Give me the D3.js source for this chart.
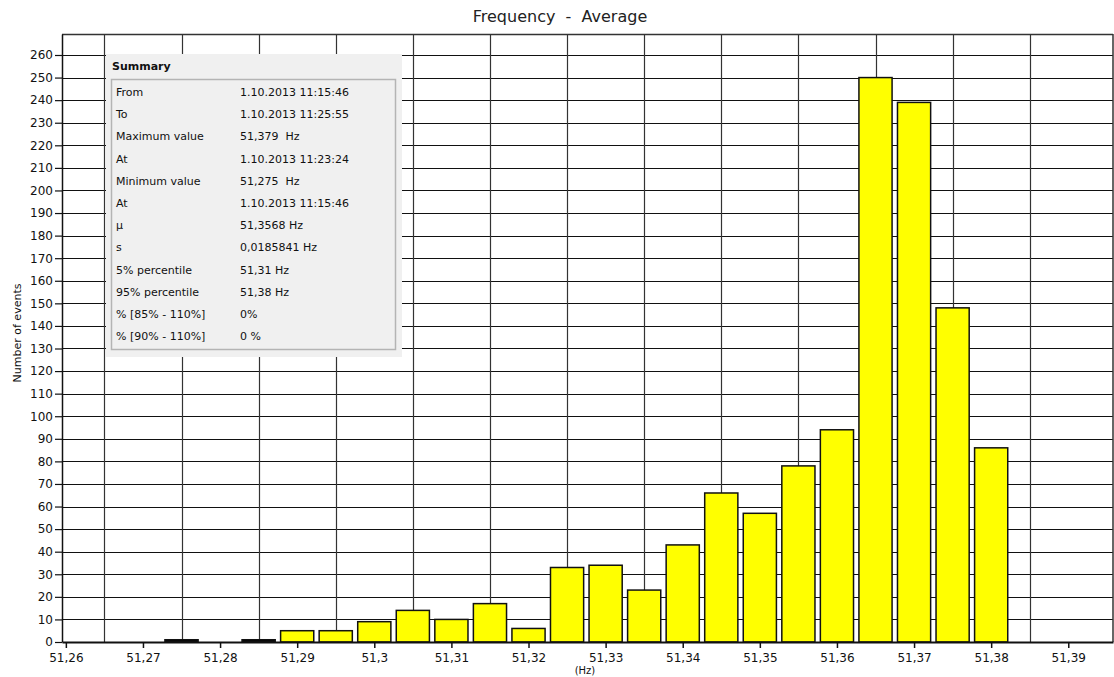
<!DOCTYPE html>
<html><head><meta charset="utf-8">
<script src="https://cdn.jsdelivr.net/npm/d3@7"></script>
<style>body{margin:0;background:#fff}svg{display:block;font-family:"DejaVu Sans",sans-serif}text{white-space:pre}</style>
</head><body><svg id="c" width="1114" height="677"></svg>
<script>
const binCenters = [51.275,51.285,51.29,51.295,51.30,51.305,51.31,51.315,51.32,51.325,51.33,51.335,51.34,51.345,51.35,51.355,51.36,51.365,51.37,51.375,51.38];
const binCounts  = [1,1,5,5,9,14,10,17,6,33,34,23,43,66,57,78,94,250,239,148,86];
const binColors  = ["black","black","yellow","yellow","yellow","yellow","yellow","yellow","yellow","yellow","yellow","yellow","yellow","yellow","yellow","yellow","yellow","yellow","yellow","yellow","yellow"];
const xTicks = [51.26,51.27,51.28,51.29,51.30,51.31,51.32,51.33,51.34,51.35,51.36,51.37,51.38,51.39];
const xGrid = [51.265,51.275,51.285,51.295,51.305,51.315,51.325,51.335,51.345,51.355,51.365,51.375,51.385];
const yTicks = d3.range(0,261,10);
const summaryLabels = ["From","To","Maximum value","At","Minimum value","At","μ","s","5% percentile","95% percentile","% [85% - 110%]","% [90% - 110%]"];
const summaryValues = ["1.10.2013 11:15:46","1.10.2013 11:25:55","51,379  Hz","1.10.2013 11:23:24","51,275  Hz","1.10.2013 11:15:46","51,3568 Hz","0,0185841 Hz","51,31 Hz","51,38 Hz","0%","0 %"];

const svg = d3.select("#c");
const L=62, T=34, R=1113, B=642;
const x = d3.scaleLinear().domain([51.2595,51.3958]).range([L,R]);
const y = d3.scaleLinear().domain([0,269.3]).range([B,T]);
const fmt = d => d3.format(".2~f")(d).replace(".",",");

// title
svg.append("text").attr("x",560).attr("y",22).attr("text-anchor","middle")
  .style("font-size","16px").attr("fill","#222").text("Frequency  -  Average");

// horizontal grid
svg.append("g").selectAll("line").data(yTicks.filter(d=>d>0)).join("line")
  .attr("x1",L).attr("x2",R).attr("y1",d=>Math.round(y(d))+0.5).attr("y2",d=>Math.round(y(d))+0.5)
  .attr("stroke","#111").attr("stroke-width",1.2);
// vertical grid
svg.append("g").selectAll("line").data(xGrid).join("line")
  .attr("x1",d=>Math.round(x(d))+0.5).attr("x2",d=>Math.round(x(d))+0.5).attr("y1",T).attr("y2",B)
  .attr("stroke","#333").attr("stroke-width",1.2);
// border top/right
svg.append("line").attr("x1",L).attr("x2",R).attr("y1",T+0.5).attr("y2",T+0.5).attr("stroke","#333").attr("stroke-width",1.5);
svg.append("line").attr("x1",R).attr("x2",R).attr("y1",T).attr("y2",B).attr("stroke","#333").attr("stroke-width",1.5);

// bars
const bw = 0.0043;
svg.append("g").selectAll("rect").data(binCenters).join("rect")
  .attr("x",(d)=>x(d-bw/2)).attr("width",(d)=>x(d+bw/2)-x(d-bw/2))
  .attr("y",(d,i)=>y(binCounts[i])).attr("height",(d,i)=>y(0)-y(binCounts[i]))
  .attr("fill",(d,i)=>binColors[i]).attr("stroke","#111").attr("stroke-width",1.5);

// summary panel
const sp = svg.append("g");
sp.append("rect").attr("x",106).attr("y",54).attr("width",296).attr("height",303).attr("fill","#f0f0f0");
sp.append("text").attr("x",112).attr("y",70).style("font-size","11px").style("font-weight","bold").attr("fill","#111").text("Summary");
sp.append("rect").attr("x",111.5).attr("y",79.5).attr("width",284).attr("height",270).attr("fill","none").attr("stroke","#b4b4b4").attr("stroke-width",1.5);
sp.selectAll("text.l").data(summaryLabels).join("text").attr("class","l")
  .attr("x",116).attr("y",(d,i)=>96+i*22.2).style("font-size","11px").attr("fill","#111").text(d=>d);
sp.selectAll("text.v").data(summaryValues).join("text").attr("class","v")
  .attr("x",240).attr("y",(d,i)=>96+i*22.2).style("font-size","11px").attr("fill","#111").text(d=>d);

// y axis
const ya = svg.append("g").attr("transform",`translate(${L},0)`)
  .call(d3.axisLeft(y).tickValues(yTicks).tickSize(7).tickSizeOuter(0).tickPadding(2));
ya.select(".domain").attr("stroke","#111").attr("stroke-width",1.5);
ya.selectAll(".tick line").attr("stroke","#111").attr("stroke-width",1.2);
ya.selectAll(".tick text").style("font-size","12px").style("font-family","DejaVu Sans").attr("fill","#111");

// x axis
const xa = svg.append("g").attr("transform",`translate(0,${B})`)
  .call(d3.axisBottom(x).tickValues(xTicks).tickFormat(fmt).tickSize(6).tickSizeOuter(0).tickPadding(5));
xa.select(".domain").attr("stroke","#111").attr("stroke-width",2);
xa.selectAll(".tick line").attr("stroke","#111").attr("stroke-width",1.5);
xa.selectAll(".tick text").style("font-size","12px").style("font-family","DejaVu Sans").attr("fill","#111");

svg.append("text").attr("x",585).attr("y",674).attr("text-anchor","middle").style("font-size","10px").attr("fill","#111").text("(Hz)");
svg.append("text").attr("transform","translate(21,333) rotate(-90)").attr("text-anchor","middle")
  .style("font-size","11px").attr("fill","#111").text("Number of events");
</script></body></html>
